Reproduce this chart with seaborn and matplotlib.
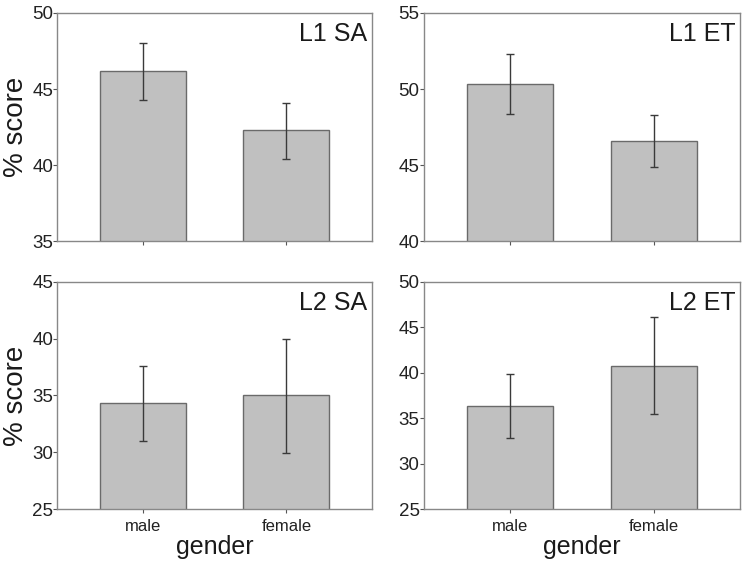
import numpy as np
import pandas as pd
import matplotlib
matplotlib.use('Agg')
import matplotlib.pyplot as plt
import seaborn as sns

sns.set_style('white')
plt.rcParams['font.family'] = ['Liberation Sans', 'DejaVu Sans']

genders = ['male', 'female']
panels = ['L1 SA', 'L1 ET', 'L2 SA', 'L2 ET']
means = [[46.2, 42.3], [50.35, 46.6], [34.3, 35.0], [36.3, 40.8]]
err_low = [[44.3, 40.4], [48.35, 44.9], [31.0, 29.9], [32.8, 35.5]]
err_high = [[48.0, 44.1], [52.3, 48.3], [37.6, 40.0], [39.9, 46.1]]
ylims = [(35, 50), (40, 55), (25, 45), (25, 50)]

fig = plt.figure(figsize=(7.46, 5.65), dpi=100)
boxes = [[0.077, 0.573, 0.422, 0.404], [0.568, 0.573, 0.424, 0.404],
         [0.077, 0.099, 0.422, 0.402], [0.568, 0.099, 0.424, 0.402]]

for i, name in enumerate(panels):
    ax = fig.add_axes(boxes[i])
    df = pd.DataFrame({'gender': genders, 'score': means[i]})
    sns.barplot(data=df, x='gender', y='score', color='#c0c0c0', width=0.6,
                edgecolor='#6a6a6a', linewidth=1.0, saturation=1, ax=ax)
    m = np.array(means[i])
    yerr = [m - np.array(err_low[i]), np.array(err_high[i]) - m]
    ax.errorbar(range(len(genders)), m, yerr=yerr, fmt='none', ecolor='#3a3a3a',
                elinewidth=1.0, capsize=3, capthick=1.0)
    ax.set_xlim(-0.6, 1.6)
    ax.set_ylim(*ylims[i])
    ax.set_yticks(np.arange(ylims[i][0], ylims[i][1] + 0.1, 5))
    for s in ax.spines.values():
        s.set_color('#888888')
        s.set_linewidth(1.0)
    ax.tick_params(axis='both', direction='out', length=3, width=0.8, color='#555555',
                   labelsize=13.5, labelcolor='#222222', pad=0, bottom=True, left=True)
    ax.text(0.985, 0.96, name, transform=ax.transAxes, ha='right', va='top',
            fontsize=18, color='#1a1a1a')
    if i % 2 == 0:
        ax.set_ylabel('% score', fontsize=20, color='#1a1a1a', labelpad=2)
    else:
        ax.set_ylabel('')
    if i >= 2:
        ax.set_xlabel('gender', fontsize=18, color='#1a1a1a', labelpad=1)
        ax.tick_params(axis='x', labelsize=12, pad=4)
    else:
        ax.set_xlabel('')
        ax.set_xticklabels([])

fig.savefig('out.png', dpi=100)
